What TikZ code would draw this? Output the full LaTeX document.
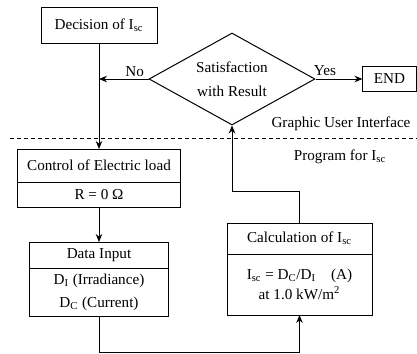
\documentclass[tikz,border=0pt]{standalone}
\usepackage{fontspec}
\setmainfont{Liberation Serif}
\usetikzlibrary{shapes.geometric, arrows.meta, positioning}
\tikzstyle{block} = [rectangle, draw=black, semithick, text centered, inner sep=1pt, outer sep=0pt]
\tikzstyle{decision} = [diamond, draw=black, semithick, align=center, inner sep=0pt, aspect=1.8, minimum width=99.6pt, minimum height=55.2pt]
\tikzstyle{arrow} = [semithick, ->, >={Stealth[length=4.8pt, width=3.9pt]}]
\tikzstyle{divider} = [semithick, dash pattern=on 2.4pt off 1.8pt]

\begin{document}
\begin{tikzpicture}[x=0.6pt, y=-0.6pt, font=\fontsize{9.1}{11}\selectfont]

    \useasboundingbox (0,0) rectangle (417,354);

    \node (dec) [block, minimum width=69.6pt, minimum height=21.6pt] at (99,25) {Decision of I\textsubscript{sc}};
    \node (sat) [decision] at (232,79) {Satisfaction\\[3.5pt] with Result};
    \node (stop) [block, right=28.2pt of sat, minimum width=32.4pt, minimum height=15pt] {END};

    \node (ctrl) [block, below=63.6pt of dec, minimum width=97.8pt, minimum height=19.8pt] {Control of Electric load};
    \node (ctrlR) [block, below=0pt of ctrl, minimum width=97.8pt, minimum height=15pt] {R = 0 Ω};
    \node (data) [block, below=21pt of ctrlR, minimum width=84pt, minimum height=15.6pt] {Data Input};
    \node (dataB) [block, below=0pt of data, minimum width=84pt, minimum height=29.4pt, align=center, font=\fontsize{9.1}{13.8}\selectfont] {D\textsubscript{I} (Irradiance)\\ D\textsubscript{C} (Current)};

    \node (calc) [block, minimum width=87pt, minimum height=18.6pt] at (299.5,238.5) {Calculation of I\textsubscript{sc}};
    \node (calcB) [block, below=0pt of calc, minimum width=87pt, minimum height=36.6pt, align=center, font=\fontsize{9.1}{12}\selectfont] {I\textsubscript{sc} = D\textsubscript{C}/D\textsubscript{I}\quad (A)\\ at 1.0 kW/m\textsuperscript{2}};

    % GUI / program border
    \node (gui) at (341,124) {Graphic User Interface};
    \node (prog) at (340,157) {Program for I\textsubscript{sc}};
    \draw [divider] (10,138) -- (417,138);

    \coordinate (nojoin) at (sat.west -| dec.south);
    \draw [arrow] (dec) -- (ctrl);
    \draw [arrow] (sat.west) -- node[above, pos=0.28, inner sep=1pt] {No} (nojoin);
    \draw [arrow] (sat.east) -- node[above, pos=0.2, inner sep=1.5pt] {Yes} (stop);
    \draw [arrow] (ctrlR) -- (data);
    \draw [arrow] (dataB.south) -- ++(0,35) -| (calcB.south);
    \draw [arrow] (calc.north) -- ++(0,-32) -| (sat.south);

\end{tikzpicture}
\end{document}
